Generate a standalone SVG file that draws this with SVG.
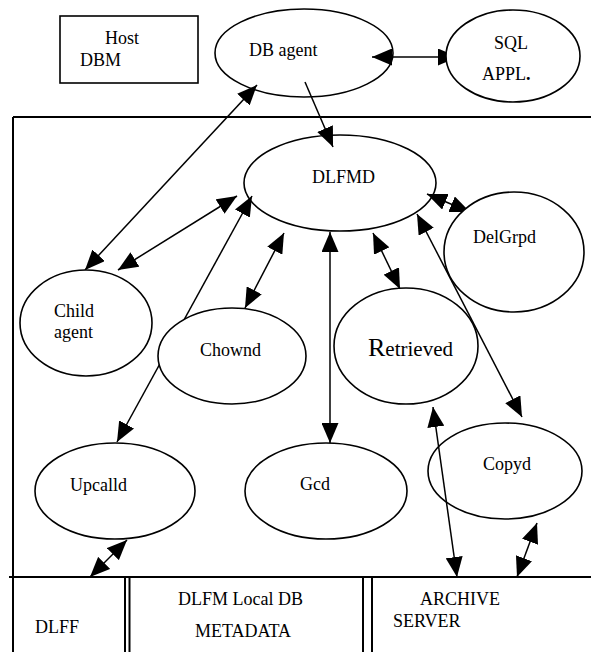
<svg xmlns="http://www.w3.org/2000/svg" width="591" height="652" viewBox="0 0 591 652">
<style>
.t{font-family:"Liberation Serif",serif;font-size:18px;fill:#000}
.n{fill:#fff;stroke:#000;stroke-width:1.6}
.c{stroke:#000;stroke-width:1.5;fill:none}
.f{stroke:#000;stroke-width:2;fill:none}
</style>
<defs>
<marker id="ah" viewBox="0 0 20 17" refX="20" refY="8.5" markerWidth="20" markerHeight="17" markerUnits="userSpaceOnUse" orient="auto-start-reverse">
<path d="M0,0 L20,8.5 L0,17 z" fill="#000"/>
</marker>
</defs>
<rect width="591" height="652" fill="#fff"/>
<g id="frame">
<line class="f" x1="13" y1="117" x2="591" y2="117"/>
<line class="f" x1="13" y1="117" x2="13" y2="652"/>
<line class="f" x1="9" y1="577" x2="591" y2="577"/>
<line class="f" x1="125" y1="577" x2="125" y2="652"/>
<line class="f" x1="129.5" y1="577" x2="129.5" y2="652"/>
<line class="f" x1="363" y1="577" x2="363" y2="652"/>
<line class="f" x1="372" y1="577" x2="372" y2="652"/>
</g>
<g id="connectors">
<line class="c" x1="372" y1="57" x2="458" y2="57" marker-start="url(#ah)" marker-end="url(#ah)"/>
<line class="c" x1="305" y1="82" x2="333" y2="147" marker-end="url(#ah)"/>
<line class="c" x1="257" y1="85" x2="85" y2="270" marker-start="url(#ah)" marker-end="url(#ah)"/>
<line class="c" x1="237" y1="196" x2="118" y2="270" marker-start="url(#ah)" marker-end="url(#ah)"/>
<line class="c" x1="252" y1="196" x2="117" y2="442" marker-start="url(#ah)" marker-end="url(#ah)"/>
<line class="c" x1="284" y1="233" x2="245" y2="308" marker-start="url(#ah)" marker-end="url(#ah)"/>
<line class="c" x1="330" y1="232" x2="330" y2="443" marker-start="url(#ah)" marker-end="url(#ah)"/>
<line class="c" x1="373" y1="233" x2="400" y2="289" marker-start="url(#ah)" marker-end="url(#ah)"/>
<line class="c" x1="427" y1="194" x2="470" y2="212" marker-start="url(#ah)" marker-end="url(#ah)"/>
<line class="c" x1="417" y1="214" x2="522" y2="417" marker-start="url(#ah)" marker-end="url(#ah)"/>
<line class="c" x1="433" y1="407" x2="457" y2="577" marker-start="url(#ah)" marker-end="url(#ah)"/>
<line class="c" x1="537" y1="523" x2="517" y2="577" marker-start="url(#ah)" marker-end="url(#ah)"/>
<line class="c" x1="127" y1="540" x2="90" y2="577" marker-start="url(#ah)" marker-end="url(#ah)"/>
</g>
<g id="host-dbm">
<rect class="n" x="60" y="16" width="138" height="67"/>
<text class="t" x="105" y="44">Host</text>
<text class="t" x="80" y="66">DBM</text>
</g>
<g id="db-agent">
<ellipse class="n" cx="304" cy="53" rx="89" ry="44" fill-opacity="0"/>
<text class="t" x="249" y="56">DB agent</text>
</g>
<g id="sql-appl">
<ellipse class="n" cx="513" cy="56" rx="67" ry="46"/>
<text class="t" x="494" y="49">SQL</text>
<text class="t" x="482" y="80">APPL<tspan font-weight="bold">.</tspan></text>
</g>
<g id="dlfmd">
<ellipse class="n" cx="340" cy="183" rx="96" ry="48" fill-opacity="0"/>
<text class="t" x="312" y="183">DLFMD</text>
</g>
<g id="delgrpd">
<ellipse class="n" cx="514" cy="252" rx="70" ry="60"/>
<text class="t" x="473" y="243">DelGrpd</text>
</g>
<g id="child-agent">
<ellipse class="n" cx="86" cy="323" rx="66" ry="53"/>
<text class="t" x="54" y="317">Child</text>
<text class="t" x="54" y="338">agent</text>
</g>
<g id="chownd">
<ellipse class="n" cx="232" cy="356" rx="74" ry="48"/>
<text class="t" x="200" y="356">Chownd</text>
</g>
<g id="retrieved">
<ellipse class="n" cx="406" cy="346" rx="72" ry="58"/>
<text class="t" x="368" y="356"><tspan font-size="26">R</tspan><tspan font-size="21">etrieved</tspan></text>
</g>
<g id="upcalld">
<ellipse class="n" cx="115" cy="491" rx="80" ry="48"/>
<text class="t" x="70" y="491">Upcalld</text>
</g>
<g id="gcd">
<ellipse class="n" cx="326" cy="491" rx="81" ry="48"/>
<text class="t" x="300" y="490">Gcd</text>
</g>
<g id="copyd">
<ellipse class="n" cx="505" cy="471" rx="77" ry="48" style="fill:none"/>
<text class="t" x="483" y="470">Copyd</text>
</g>
<g id="dlff">
<text class="t" x="35" y="633">DLFF</text>
</g>
<g id="dlfm-local-db">
<text class="t" x="178" y="605">DLFM Local DB</text>
<text class="t" x="195" y="637">METADATA</text>
</g>
<g id="archive-server">
<text class="t" x="420" y="605">ARCHIVE</text>
<text class="t" x="393" y="627">SERVER</text>
</g>
</svg>
